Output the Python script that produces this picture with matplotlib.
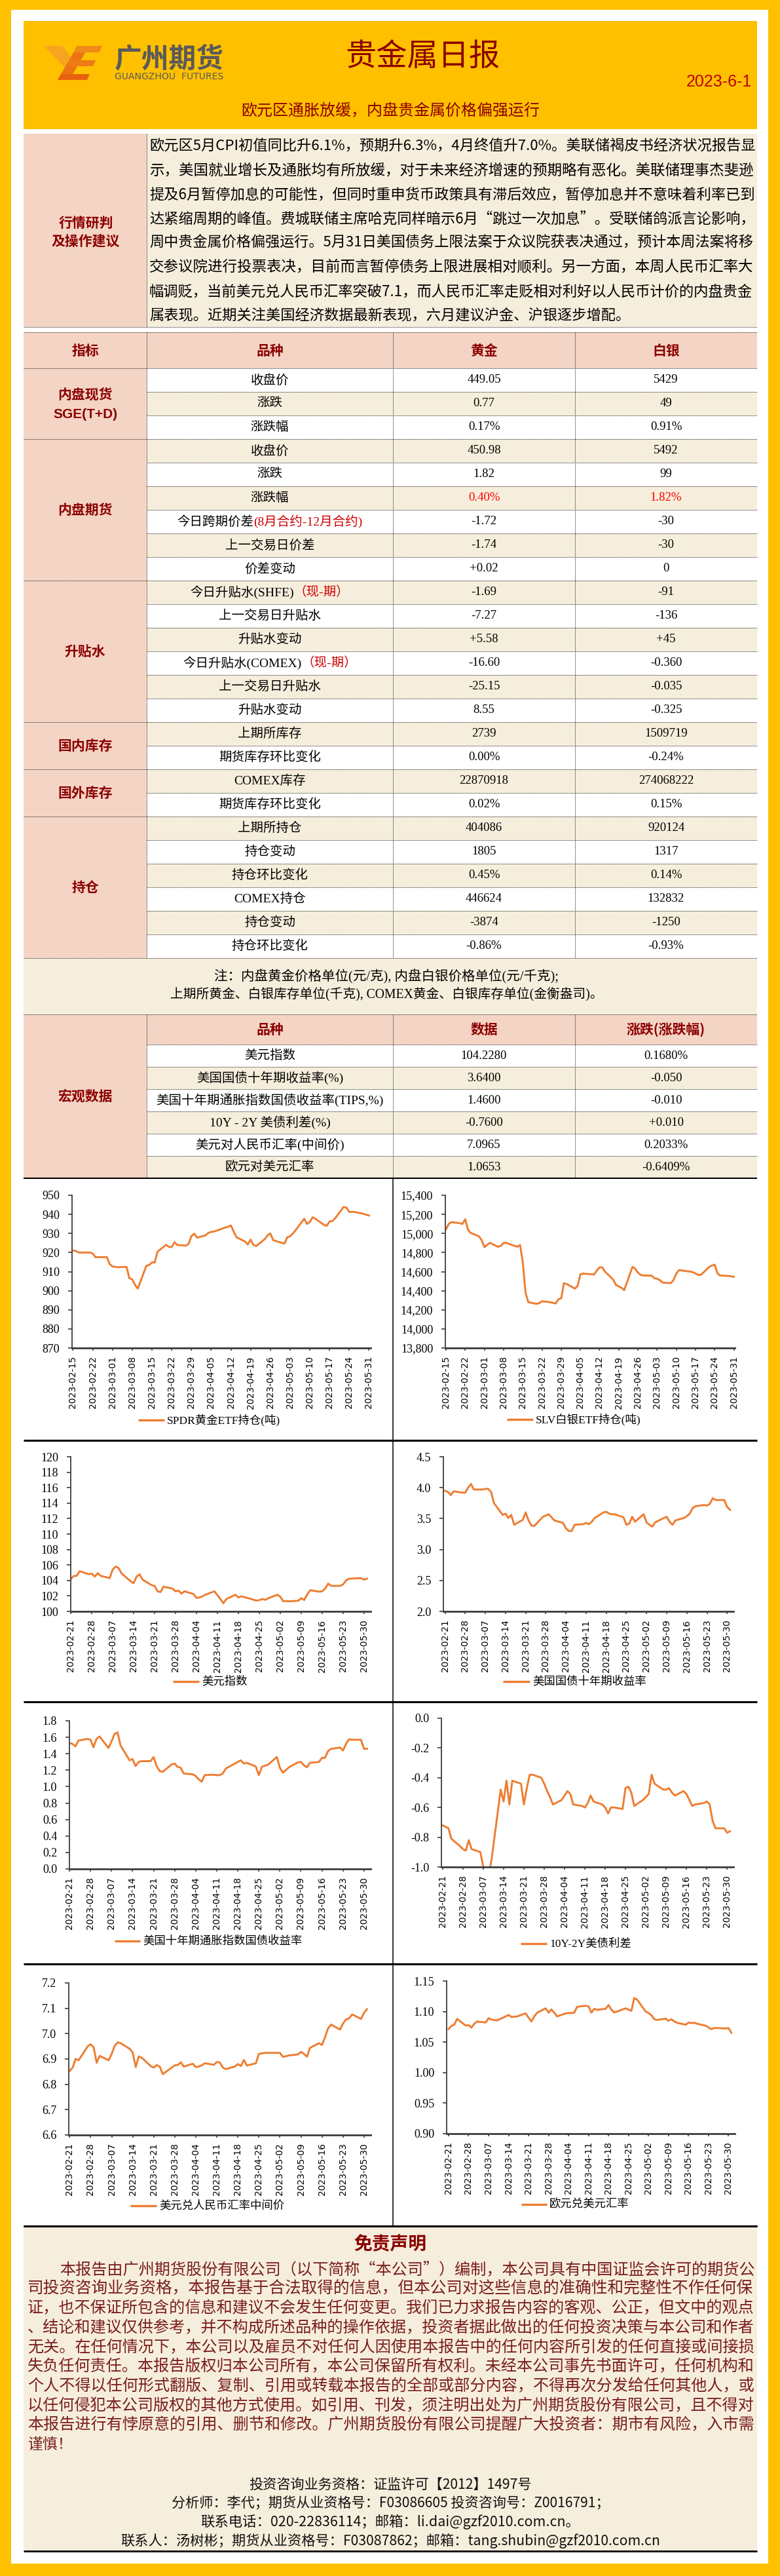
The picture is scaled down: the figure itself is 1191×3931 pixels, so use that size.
import numpy as np
import pandas as pd
import matplotlib
matplotlib.use('Agg')
import matplotlib.pyplot as plt
from matplotlib.patches import Rectangle, Polygon
from matplotlib.ticker import FixedLocator, FuncFormatter
import matplotlib.dates as mdates

plt.rcParams['font.family'] = ['Noto Sans CJK SC', 'DejaVu Sans']
plt.rcParams['axes.unicode_minus'] = False

CJK = ['Noto Sans CJK SC', 'DejaVu Sans']
SERIF = ['Liberation Serif', 'Noto Sans CJK SC']
YELLOW = '#FFC000'
PINK = '#F4D4C4'
CREAM = '#F6EEDC'
DARKRED = '#8B0000'
ORANGE = '#ED7D31'

# ---------------- 文字与表格数据 ----------------
title = '贵金属日报'
report_date = '2023-6-1'
headline = '欧元区通胀放缓，内盘贵金属价格偏强运行'

comment_lines = [
    '欧元区5月CPI初值同比升6.1%，预期升6.3%，4月终值升7.0%。美联储褐皮书经济状况报告显',
    '示，美国就业增长及通胀均有所放缓，对于未来经济增速的预期略有恶化。美联储理事杰斐逊',
    '提及6月暂停加息的可能性，但同时重申货币政策具有滞后效应，暂停加息并不意味着利率已到',
    '达紧缩周期的峰值。费城联储主席哈克同样暗示6月“跳过一次加息”。受联储鸽派言论影响，',
    '周中贵金属价格偏强运行。5月31日美国债务上限法案于众议院获表决通过，预计本周法案将移',
    '交参议院进行投票表决，目前而言暂停债务上限进展相对顺利。另一方面，本周人民币汇率大',
    '幅调贬，当前美元兑人民币汇率突破7.1，而人民币汇率走贬相对利好以人民币计价的内盘贵金',
    '属表现。近期关注美国经济数据最新表现，六月建议沪金、沪银逐步增配。',
]

table_header = ['指标', '品种', '黄金', '白银']
sections = ['内盘现货\nSGE(T+D)', '内盘期货', '升贴水', '国内库存', '国外库存', '持仓']
section_sizes = [3, 6, 6, 2, 2, 6]
items = ['收盘价', '涨跌', '涨跌幅',
         '收盘价', '涨跌', '涨跌幅', '今日跨期价差', '上一交易日价差', '价差变动',
         '今日升贴水(SHFE)', '上一交易日升贴水', '升贴水变动',
         '今日升贴水(COMEX)', '上一交易日升贴水', '升贴水变动',
         '上期所库存', '期货库存环比变化',
         'COMEX库存', '期货库存环比变化',
         '上期所持仓', '持仓变动', '持仓环比变化', 'COMEX持仓', '持仓变动', '持仓环比变化']
item_red_suffix = {6: '(8月合约-12月合约)', 9: '（现-期）', 12: '（现-期）'}
gold = ['449.05', '0.77', '0.17%',
        '450.98', '1.82', '0.40%', '-1.72', '-1.74', '+0.02',
        '-1.69', '-7.27', '+5.58', '-16.60', '-25.15', '8.55',
        '2739', '0.00%', '22870918', '0.02%',
        '404086', '1805', '0.45%', '446624', '-3874', '-0.86%']
silver = ['5429', '49', '0.91%',
          '5492', '99', '1.82%', '-30', '-30', '0',
          '-91', '-136', '+45', '-0.360', '-0.035', '-0.325',
          '1509719', '-0.24%', '274068222', '0.15%',
          '920124', '1317', '0.14%', '132832', '-1250', '-0.93%']
red_value_rows = [5]

note_lines = ['注：内盘黄金价格单位(元/克), 内盘白银价格单位(元/千克);',
              '上期所黄金、白银库存单位(千克), COMEX黄金、白银库存单位(金衡盎司)。']

macro_header = ['品种', '数据', '涨跌(涨跌幅)']
macro_items = ['美元指数', '美国国债十年期收益率(%)', '美国十年期通胀指数国债收益率(TIPS,%)',
               '10Y - 2Y 美债利差(%)', '美元对人民币汇率(中间价)', '欧元对美元汇率']
macro_values = ['104.2280', '3.6400', '1.4600', '-0.7600', '7.0965', '1.0653']
macro_changes = ['0.1680%', '-0.050', '-0.010', '+0.010', '0.2033%', '-0.6409%']

disclaimer_lines = [
    '本报告由广州期货股份有限公司（以下简称“本公司”）编制，本公司具有中国证监会许可的期货公',
    '司投资咨询业务资格，本报告基于合法取得的信息，但本公司对这些信息的准确性和完整性不作任何保',
    '证，也不保证所包含的信息和建议不会发生任何变更。我们已力求报告内容的客观、公正，但文中的观点',
    '、结论和建议仅供参考，并不构成所述品种的操作依据，投资者据此做出的任何投资决策与本公司和作者',
    '无关。在任何情况下，本公司以及雇员不对任何人因使用本报告中的任何内容所引发的任何直接或间接损',
    '失负任何责任。本报告版权归本公司所有，本公司保留所有权利。未经本公司事先书面许可，任何机构和',
    '个人不得以任何形式翻版、复制、引用或转载本报告的全部或部分内容，不得再次分发给任何其他人，或',
    '以任何侵犯本公司版权的其他方式使用。如引用、刊发，须注明出处为广州期货股份有限公司，且不得对',
    '本报告进行有悖原意的引用、删节和修改。广州期货股份有限公司提醒广大投资者：期市有风险，入市需',
    '谨慎！',
]
contact_lines = ['投资咨询业务资格：证监许可【2012】1497号',
                 '分析师：李代；期货从业资格号：F03086605 投资咨询号：Z0016791；',
                 '联系电话：020-22836114；邮箱：li.dai@gzf2010.com.cn。',
                 '联系人：汤树彬；期货从业资格号：F03087862；邮箱：tang.shubin@gzf2010.com.cn']

# ---------------- 图表数据 ----------------
etf_dates = pd.bdate_range('2023-02-15', '2023-05-31')
macro_dates = pd.bdate_range('2023-02-21', '2023-05-31')

spdr_hold = [921.1, 920.8, 920.0,
             920.0, 920.0, 919.5, 917.5, 917.6,
             917.6, 914.0, 912.7, 912.5, 912.3,
             912.5, 906.5, 906.0, 903.0, 901.1,
             913.0, 913.5, 914.8, 914.8, 920.5,
             924.0, 923.0, 922.8, 925.4, 924.0,
             923.6, 924.5, 928.6, 929.9, 927.8,
             929.0, 930.3, 930.8, 931.0, 931.5,
             933.1, 933.5, 934.2, 931.0, 928.0,
             925.8, 924.2, 926.8, 924.0, 923.4,
             927.0, 929.0, 930.0, 926.5, 926.0,
             924.7, 928.0, 928.5, 930.0, 931.8,
             937.7, 935.0, 936.0, 938.5, 937.7,
             934.5, 934.0, 936.3, 936.5, 938.0,
             943.9, 943.5, 941.3, 941.3, 941.2,
             940.3, 939.8, 939.4]
slv_hold = [15043, 15100, 15119,
            15107, 15100, 15149, 15040, 15005,
            14970, 14930, 14856, 14880, 14902,
            14860, 14870, 14900, 14902, 14890,
            14860, 14879, 14700, 14380, 14280,
            14262, 14270, 14290, 14285, 14285,
            14266, 14310, 14320, 14479, 14470,
            14422, 14450, 14570, 14580, 14577,
            14570, 14610, 14645, 14645, 14600,
            14515, 14460, 14445, 14430, 14406,
            14650, 14630, 14590, 14565, 14559,
            14559, 14530, 14525, 14510, 14485,
            14479, 14513, 14580, 14616, 14612,
            14600, 14595, 14580, 14566, 14566,
            14650, 14662, 14673, 14580, 14559,
            14555, 14550, 14547]
usd_index = [104.16, 104.58, 104.60, 105.20,
             104.80, 104.90, 104.50, 104.95, 104.60,
             104.30, 105.40, 105.80, 105.60, 104.90,
             103.90, 103.65, 104.50, 104.80, 104.10,
             103.40, 103.30, 102.60, 102.50, 103.20,
             102.95, 102.60, 102.69, 102.30, 102.60,
             102.25, 101.75, 101.80, 101.95, 102.15,
             102.60, 102.10, 101.60, 101.05, 101.60,
             102.15, 101.80, 101.95, 101.85, 101.75,
             101.40, 101.45, 101.60, 101.50, 101.70,
             102.15, 101.90, 101.30, 101.35, 101.30,
             101.38, 101.70, 101.47, 102.20, 102.74,
             102.55, 102.60, 102.95, 103.59, 103.30,
             103.30, 103.50, 104.00, 104.22, 104.25,
             104.30, 104.10, 104.23]
us10y = [3.95, 3.93, 3.88, 3.94,
         3.92, 3.92, 4.00, 4.06, 3.97,
         3.97, 3.98, 3.98, 3.93, 3.75,
         3.56, 3.58, 3.51, 3.56, 3.40,
         3.48, 3.60, 3.47, 3.39, 3.38,
         3.53, 3.55, 3.57, 3.52, 3.47,
         3.43, 3.34, 3.30, 3.30, 3.40,
         3.41, 3.43, 3.41, 3.45, 3.51,
         3.60, 3.61, 3.58, 3.57, 3.57,
         3.52, 3.40, 3.42, 3.53, 3.45,
         3.57, 3.44, 3.40, 3.37, 3.44,
         3.51, 3.53, 3.45, 3.40, 3.47,
         3.51, 3.54, 3.58, 3.67, 3.70,
         3.72, 3.71, 3.74, 3.83, 3.80,
         3.80, 3.69, 3.64]
tips10y = [1.53, 1.52, 1.49, 1.56,
           1.58, 1.57, 1.48, 1.58, 1.61,
           1.47, 1.55, 1.64, 1.66, 1.50,
           1.32, 1.335, 1.25, 1.30, 1.31,
           1.31, 1.36, 1.25, 1.19, 1.18,
           1.27, 1.28, 1.24, 1.23, 1.16,
           1.15, 1.13, 1.09, 1.06, 1.14,
           1.145, 1.14, 1.14, 1.16, 1.22,
           1.28, 1.30, 1.32, 1.28, 1.29,
           1.245, 1.14, 1.24, 1.255, 1.265,
           1.36, 1.23, 1.17, 1.20, 1.235,
           1.295, 1.30, 1.26, 1.235, 1.29,
           1.30, 1.35, 1.35, 1.43, 1.46,
           1.475, 1.44, 1.52, 1.575, 1.57,
           1.57, 1.46, 1.46]
spread_10y2y = [-0.72, -0.73, -0.74, -0.81,
                -0.86, -0.88, -0.89, -0.82, -0.88,
                -0.90, -1.00, -1.07, -1.05, -0.93,
                -0.48, -0.56, -0.42, -0.58, -0.42,
                -0.44, -0.58, -0.47, -0.38, -0.38,
                -0.40, -0.44, -0.49, -0.53, -0.58,
                -0.55, -0.52, -0.49, -0.51, -0.58,
                -0.59, -0.60, -0.57, -0.52, -0.56,
                -0.58, -0.60, -0.64, -0.60, -0.60,
                -0.61, -0.47, -0.46, -0.50, -0.59,
                -0.55, -0.53, -0.51, -0.38, -0.44,
                -0.48, -0.48, -0.47, -0.50, -0.52,
                -0.49, -0.51, -0.55, -0.59, -0.58,
                -0.57, -0.56, -0.58, -0.69, -0.74,
                -0.74, -0.77, -0.76]
usdcny = [6.853, 6.866, 6.900, 6.895,
          6.950, 6.958, 6.946, 6.885, 6.912,
          6.895, 6.920, 6.952, 6.966, 6.962,
          6.940, 6.925, 6.868, 6.910, 6.905,
          6.872, 6.866, 6.876, 6.870, 6.840,
          6.866, 6.875, 6.876, 6.887, 6.870,
          6.881, 6.868, 6.870, 6.875, 6.883,
          6.877, 6.888, 6.886, 6.866, 6.860,
          6.870, 6.880, 6.872, 6.896, 6.874,
          6.883, 6.920, 6.922, 6.924, 6.924,
          6.924, 6.924, 6.908, 6.911, 6.914,
          6.918, 6.928, 6.920, 6.909, 6.944,
          6.962, 6.955, 6.985, 7.020, 7.036,
          7.016, 7.040, 7.056, 7.060, 7.076,
          7.058, 7.082, 7.0965]
eurusd = [1.0712, 1.0766, 1.0784, 1.0880,
          1.0770, 1.0777, 1.0737, 1.0800, 1.0837,
          1.0820, 1.0890, 1.0870, 1.0858, 1.0855,
          1.0920, 1.0945, 1.0910, 1.0915, 1.0920,
          1.0970, 1.0900, 1.0837, 1.0920, 1.0980,
          1.1052, 1.0981, 1.1034, 1.0980, 1.0920,
          1.0970, 1.0975, 1.0975, 1.0981, 1.1077,
          1.1095, 1.1085, 1.0981, 1.1045, 1.1027,
          1.1045, 1.1106, 1.1030, 1.0985, 1.1000,
          1.1052, 1.1030, 1.1010, 1.1221, 1.1195,
          1.1000, 1.0975, 1.0940, 1.0875, 1.0862,
          1.0884, 1.0848, 1.0873, 1.0840, 1.0815,
          1.0784, 1.0820, 1.0810, 1.0815, 1.0800,
          1.0768, 1.0740, 1.0712, 1.0730, 1.0730,
          1.0722, 1.0730, 1.0653]

# ---------------- 画布 ----------------
W, H = 1191, 3931
fig = plt.figure(figsize=(W / 100, H / 100), dpi=100)
fig.patch.set_facecolor(YELLOW)
bg = fig.add_axes([0, 0, 1, 1])
bg.set_xlim(0, W)
bg.set_ylim(H, 0)
bg.axis('off')
renderer = fig.canvas.get_renderer()


def rect(x0, y0, x1, y1, color):
    bg.add_patch(Rectangle((x0, y0), x1 - x0, y1 - y0, facecolor=color, edgecolor='none', zorder=1))


def hline(y, x0=36, x1=1156, dotted=True, lw=0.7, color='#222222'):
    bg.plot([x0, x1], [y, y], color=color, lw=lw, ls=(0, (1, 1)) if dotted else '-',
            solid_capstyle='butt', zorder=3)


def vline(x, y0, y1, dotted=True, lw=0.7, color='#222222'):
    bg.plot([x, x], [y0, y1], color=color, lw=lw, ls=(0, (1, 1)) if dotted else '-',
            solid_capstyle='butt', zorder=3)


def txt(x, y, s, size, color='black', ha='center', fam=CJK, weight='normal'):
    return bg.text(x, y, s, fontsize=size, color=color, ha=ha, va='center',
                   family=fam, fontweight=weight, zorder=5)


def fit(t, width):
    w = t.get_window_extent(renderer).width
    t.set_fontsize(t.get_fontsize() * width / w)
    return t


def mixed(cx, cy, parts, size, fam=SERIF):
    arts = [bg.text(0, cy, s, fontsize=size, color=c, ha='left', va='center',
                    family=fam, zorder=5) for s, c in parts]
    widths = [a.get_window_extent(renderer).width for a in arts]
    x = cx - sum(widths) / 2
    for a, w in zip(arts, widths):
        a.set_x(x)
        x += w


rect(17, 15, 1173, 3912, 'white')

# ---- 页眉 ----
rect(36, 32, 1156, 197, YELLOW)
logo = [([(67, 70), (95, 70), (116, 97), (101, 105)], '#F7A51E'),
        ([(118, 70), (136, 70), (106, 122), (88, 122)], '#EC7414'),
        ([(118, 70), (156, 70), (152, 80), (113, 80)], '#F08A18'),
        ([(106, 92), (146, 92), (142, 101), (101, 101)], '#EE7B15'),
        ([(93, 113), (137, 113), (133, 122), (88, 122)], '#E8620E')]
for pts, c in logo:
    bg.add_patch(Polygon(pts, closed=True, facecolor=c, edgecolor='none', zorder=4))
fit(txt(175, 90, '广州期货', 27, '#5A5A5A', ha='left', weight='bold'), 167)
fit(txt(175, 117, 'GUANGZHOU  FUTURES', 9, '#5A5A5A', ha='left', fam=['DejaVu Sans']), 167)
txt(645, 88, title, 34, DARKRED)
fit(txt(1148, 125, report_date, 15, '#C00000', ha='right', fam=['Liberation Sans']), 100)
fit(txt(596, 170, headline, 16, DARKRED), 456)

# ---- 行情研判 ----
rect(36, 204, 224, 499, PINK)
rect(224, 204, 1156, 499, CREAM)
vline(224, 204, 499)
hline(499)
txt(131, 340, '行情研判', 15, DARKRED, weight='bold')
txt(131, 368, '及操作建议', 15, DARKRED, weight='bold')
for i, line in enumerate(comment_lines):
    t = txt(228, 223.3 + 36.9 * i, line, 16, 'black', ha='left')
    if i < len(comment_lines) - 1:
        fit(t, 925)

# ---- 主表 ----
cols = [36, 224, 600, 878, 1156]
centers = [(cols[k] + cols[k + 1]) / 2 for k in range(4)]
rect(36, 507, 1156, 562, PINK)
hline(507)
hline(562)
for k, h in enumerate(table_header):
    txt(centers[k], 535, h, 15, DARKRED, weight='bold')

row_h = 36
top = 562
r = 0
for sec, n in zip(sections, section_sizes):
    y0 = top + r * row_h
    y1 = y0 + n * row_h
    rect(36, y0, 224, y1, PINK)
    for k in range(n):
        i = r + k
        ya = top + i * row_h
        cy = ya + row_h / 2
        rect(224, ya, 1156, ya + row_h, CREAM if i % 2 else 'white')
        if i in item_red_suffix:
            mixed(centers[1], cy, [(items[i], 'black'), (item_red_suffix[i], '#D00000')], 14)
        else:
            txt(centers[1], cy, items[i], 14, fam=SERIF)
        vc = '#FF0000' if i in red_value_rows else 'black'
        txt(centers[2], cy, gold[i], 13.5, vc, fam=['Liberation Serif'])
        txt(centers[3], cy, silver[i], 13.5, vc, fam=['Liberation Serif'])
        if k < n - 1:
            hline(ya + row_h, 224, 1156)
    hline(y1)
    parts = sec.split('\n')
    cy = (y0 + y1) / 2
    if len(parts) == 2:
        txt(centers[0], cy - 13, parts[0], 15, DARKRED, weight='bold')
        txt(centers[0], cy + 16, parts[1], 15, DARKRED, fam=['Liberation Sans'], weight='bold')
    else:
        txt(centers[0], cy, sec, 15, DARKRED, weight='bold')
    r += n
table_bottom = top + r * row_h
for x in cols[1:4]:
    vline(x, 507, table_bottom)

# ---- 注释 ----
rect(36, table_bottom, 1156, 1548, CREAM)
fit(txt(590, 1490, note_lines[0], 14, fam=SERIF), 528)
fit(txt(590, 1518, note_lines[1], 14, fam=SERIF), 664)
hline(1548)

# ---- 宏观数据 ----
rect(36, 1548, 224, 1798, PINK)
rect(224, 1548, 1156, 1594, PINK)
for k, h in enumerate(macro_header):
    txt(centers[k + 1], 1571, h, 15, DARKRED, weight='bold')
hline(1594, 224, 1156)
for i in range(len(macro_items)):
    ya = 1594 + 34 * i
    cy = ya + 17
    rect(224, ya, 1156, ya + 34, CREAM if i % 2 else 'white')
    txt(centers[1], cy, macro_items[i], 14, fam=SERIF)
    txt(centers[2], cy, macro_values[i], 13.5, fam=['Liberation Serif'])
    txt(centers[3], cy, macro_changes[i], 13.5, fam=['Liberation Serif'])
    if i < len(macro_items) - 1:
        hline(ya + 34, 224, 1156)
txt(centers[0], 1673, '宏观数据', 15, DARKRED, weight='bold')
for x in cols[1:4]:
    vline(x, 1548, 1798)
hline(1798, dotted=False, lw=1.5, color='black')

# ---- 图表区 ----
vline(600, 1798, 3397, dotted=False, lw=1.1, color='black')
for y in [2198, 2597, 2997, 3397]:
    hline(y, dotted=False, lw=2.2, color='black')


def draw_chart(px, dates, values, ylo, yhi, ystep, fmt, first_tick, last_tick,
               x_start, x_end, label, leg):
    x0, y0, x1, y1 = px
    ax = fig.add_axes([x0 / W, 1 - y1 / H, (x1 - x0) / W, (y1 - y0) / H])
    ax.set_facecolor('none')
    ax.plot(dates, values, color=ORANGE, lw=2.1, solid_joinstyle='round')
    ticks = pd.date_range(first_tick, last_tick, freq='7D')
    ax.xaxis.set_major_locator(FixedLocator(mdates.date2num(ticks)))
    ax.xaxis.set_major_formatter(mdates.DateFormatter('%Y-%m-%d'))
    ax.set_xlim(pd.Timestamp(x_start), pd.Timestamp(x_end))
    ax.set_ylim(ylo, yhi)
    yt = np.round(np.arange(ylo, yhi + ystep / 2, ystep), 6) + 0.0
    ax.yaxis.set_major_locator(FixedLocator(yt))
    ax.yaxis.set_major_formatter(FuncFormatter(fmt))
    for s in ['top', 'right']:
        ax.spines[s].set_visible(False)
    ax.spines['left'].set_color('#3C3C3C')
    ax.spines['left'].set_linewidth(1.3)
    ax.spines['bottom'].set_color('#3C3C3C')
    ax.spines['bottom'].set_linewidth(2.0)
    ax.tick_params(axis='y', direction='out', length=4.5, width=1.2, color='#3C3C3C',
                   pad=9, labelsize=13)
    ax.tick_params(axis='x', direction='out', length=3, width=1.2, color='#3C3C3C',
                   pad=6, labelsize=10, labelrotation=90)
    plt.setp(ax.get_yticklabels(), family='Liberation Serif')
    plt.setp(ax.get_xticklabels(), family='DejaVu Sans')
    lx0, lx1, ly = leg
    bg.plot([lx0, lx1], [ly, ly], color=ORANGE, lw=2.4, solid_capstyle='butt', zorder=4)
    txt(lx1 + 4, ly, label, 12.5, ha='left', fam=SERIF)
    return ax


d1 = lambda v, p: '%d' % round(v)
d_comma = lambda v, p: '{:,.0f}'.format(v)
f1 = lambda v, p: '%.1f' % (round(v, 1) + 0.0)
f2 = lambda v, p: '%.2f' % v

draw_chart((110, 1824, 566, 2057), etf_dates, spdr_hold, 870, 950, 10, d1,
           '2023-02-15', '2023-05-31', '2023-02-14 16:00', '2023-05-31 14:00',
           'SPDR黄金ETF持仓(吨)', (211, 251, 2167))
draw_chart((680, 1824, 1122, 2057), etf_dates, slv_hold, 13800, 15400, 200, d_comma,
           '2023-02-15', '2023-05-31', '2023-02-14 18:00', '2023-05-31 08:00',
           'SLV白银ETF持仓(吨)', (774, 814, 2166))
draw_chart((108, 2223, 566, 2459), macro_dates, usd_index, 100, 120, 2, d1,
           '2023-02-21', '2023-05-30', '2023-02-21 00:00', '2023-06-01 05:00',
           '美元指数', (264, 304, 2566))
draw_chart((677, 2223, 1120, 2459), macro_dates, us10y, 2.0, 4.5, 0.5, f1,
           '2023-02-21', '2023-05-30', '2023-02-20 10:00', '2023-06-01 05:00',
           '美国国债十年期收益率', (768, 809, 2566))
draw_chart((106, 2626, 566, 2852), macro_dates, tips10y, 0.0, 1.8, 0.2, f1,
           '2023-02-21', '2023-05-30', '2023-02-21 00:00', '2023-06-01 05:00',
           '美国十年期通胀指数国债收益率', (175, 214, 2962))
draw_chart((674, 2622, 1120, 2849), macro_dates, spread_10y2y, -1.0, 0.0, 0.2, f1,
           '2023-02-21', '2023-05-30', '2023-02-20 14:00', '2023-06-01 05:00',
           '10Y-2Y美债利差', (795, 835, 2966))
draw_chart((105, 3026, 566, 3258), macro_dates, usdcny, 6.6, 7.2, 0.1, f1,
           '2023-02-21', '2023-05-30', '2023-02-20 17:00', '2023-06-01 05:00',
           '美元兑人民币汇率中间价', (199, 239, 3366))
draw_chart((682, 3023, 1122, 3256), macro_dates, eurusd, 0.90, 1.15, 0.05, f2,
           '2023-02-21', '2023-05-30', '2023-02-20 08:00', '2023-06-01 05:00',
           '欧元兑美元汇率', (796, 835, 3364))

# ---- 免责声明 ----
rect(36, 3397, 1156, 3893, CREAM)
hline(3397, dotted=False, lw=2.2, color='black')
hline(3893, dotted=False, lw=2.0, color='black')
txt(596, 3425, '免责声明', 20, DARKRED, weight='bold')
for i, line in enumerate(disclaimer_lines):
    x_left = 91 if i == 0 else 42
    t = txt(x_left, 3463 + 29.7 * i, line, 16.5, '#7A1E1E', ha='left')
    if i < len(disclaimer_lines) - 1:
        fit(t, 1151 - x_left)
contact_y = [3792, 3820, 3848, 3877]
contact_w = [432, 667, 578, 822]
for s, y, w in zip(contact_lines, contact_y, contact_w):
    fit(txt(596, y, s, 13, '#111111'), w)

fig.savefig('out.png', dpi=100, facecolor=fig.get_facecolor())
